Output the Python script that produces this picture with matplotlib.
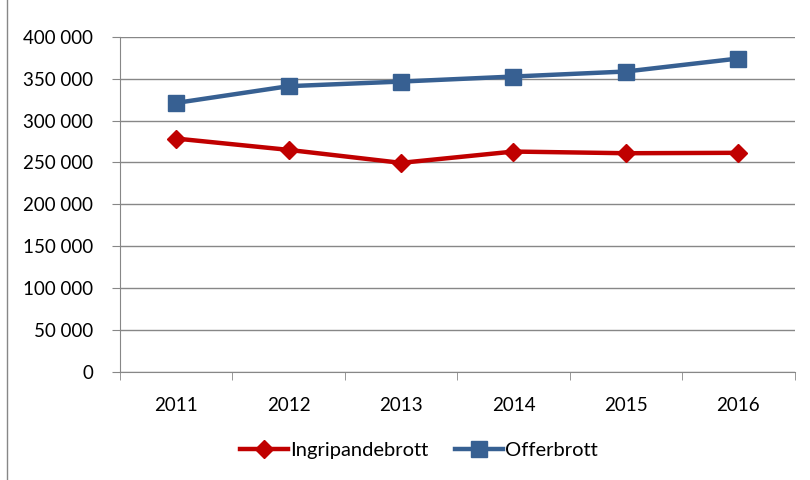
import matplotlib
matplotlib.use("Agg")
import matplotlib.pyplot as plt
from matplotlib.patches import Rectangle
from matplotlib.ticker import FuncFormatter, FixedLocator

plt.rcParams['font.family'] = ['Lato', 'DejaVu Sans']

years = ["2011", "2012", "2013", "2014", "2015", "2016"]
ingripande = [278500, 265000, 249500, 263000, 261000, 261500]
offer = [321000, 341000, 346500, 352500, 358500, 374000]

red = "#C00000"
blue = "#376092"
grey = "#878787"

fig = plt.figure(figsize=(8.1, 4.8), dpi=100)
ax = fig.add_axes([0.148, 0.225, 0.833, 0.6985])

x = list(range(len(years)))
ax.plot(x, ingripande, color=red, lw=3.2, marker="D", markersize=9, label="Ingripandebrott")
ax.plot(x, offer, color=blue, lw=3.2, marker="s", markersize=12, label="Offerbrott")

ax.set_xlim(-0.5, len(years) - 0.5)
ax.set_ylim(0, 400000)
ax.set_yticks(range(0, 400001, 50000))
ax.yaxis.set_major_formatter(FuncFormatter(lambda v, p: f"{int(v):,}".replace(",", " ")))
ax.grid(axis="y", color=grey, lw=1)
ax.set_axisbelow(True)

# category axis: labels in the middle, tick marks between categories
ax.set_xticks(x)
ax.set_xticklabels(years)
ax.tick_params(axis="x", which="major", length=0, pad=18, labelsize=13.5)
ax.xaxis.set_minor_locator(FixedLocator([i - 0.5 for i in range(len(years) + 1)]))
ax.tick_params(axis="x", which="minor", length=6, color=grey, direction="out")
ax.tick_params(axis="y", length=6, color=grey, labelsize=13.5, pad=13)

for s in ["top", "right"]:
    ax.spines[s].set_visible(False)
ax.spines["left"].set_color(grey)
ax.spines["bottom"].set_color(grey)

fig.legend(loc="center", bbox_to_anchor=(0.517, 0.062), ncol=2, frameon=False,
           fontsize=14.5, handlelength=2.4, columnspacing=1.3, handletextpad=0.1)

fig.patches.append(Rectangle((0.0086, -0.01), 1.2, 1.2, transform=fig.transFigure,
                             fill=False, edgecolor=grey, lw=1))

fig.savefig("out.png", dpi=100)
